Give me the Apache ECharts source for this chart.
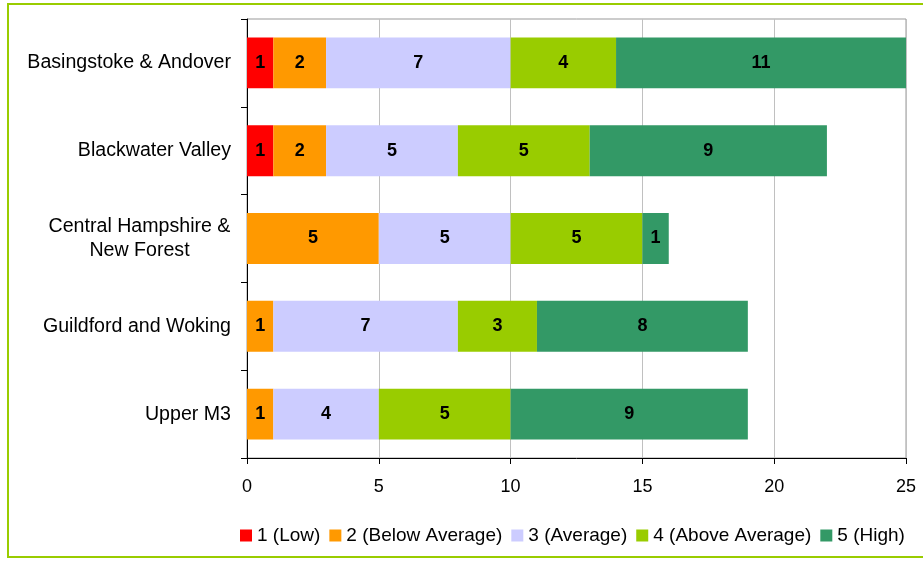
<!DOCTYPE html>
<html>
<head>
<meta charset="utf-8">
<script src="https://cdn.jsdelivr.net/npm/echarts@6/dist/echarts.min.js"></script>
<style>
  html, body { margin: 0; padding: 0; background: #fff; overflow: hidden; }
  #frame {
    position: absolute; left: 7px; top: 3px; width: 930px; height: 555px;
    border: 2px solid #99CC00; box-sizing: border-box;
  }
  #chart { position: absolute; left: 0; top: 0; width: 923px; height: 561px; }
</style>
</head>
<body>
<div id="frame"></div>
<div id="chart"></div>
<script>
const categories = [
  'Basingstoke & Andover',
  'Blackwater Valley',
  'Central Hampshire &\nNew Forest',
  'Guildford and Woking',
  'Upper M3'
];
const seriesNames = ['1 (Low)', '2 (Below Average)', '3 (Average)', '4 (Above Average)', '5 (High)'];
const seriesColors = ['#FF0000', '#FF9900', '#CCCCFF', '#99CC00', '#339966'];
const low = [1, 1, null, null, null];
const belowAverage = [2, 2, 5, 1, 1];
const average = [7, 5, 5, 7, 4];
const aboveAverage = [4, 5, 5, 3, 5];
const high = [11, 9, 1, 8, 9];
const xTicks = [0, 5, 10, 15, 20, 25];

const seriesData = [low, belowAverage, average, aboveAverage, high];
const FONT = '"Liberation Sans", Arial, sans-serif';

const chart = echarts.init(document.getElementById('chart'), null, { renderer: 'canvas' });

const series = seriesData.map((data, i) => ({
  name: seriesNames[i],
  type: 'bar',
  stack: 'total',
  data,
  barWidth: '58%',
  itemStyle: { color: seriesColors[i] },
  label: {
    show: true,
    position: 'inside',
    color: '#000',
    fontWeight: 'bold',
    fontSize: 18,
    fontFamily: FONT
  },
  animation: false
}));

// multi-line category labels are centred line by line, like the original
function catLabel(value) {
  if (value.indexOf('\n') < 0) return value;
  return value.split('\n').map(s => '{c|' + s + '}').join('\n');
}

chart.setOption({
  backgroundColor: 'transparent',
  animation: false,
  grid: {
    left: 247,
    right: 17,
    top: 19,
    bottom: 103,
    show: true,
    borderColor: '#999999',
    borderWidth: 1,
    backgroundColor: 'transparent'
  },
  legend: {
    data: seriesNames,
    top: 521,
    left: 235,
    icon: 'rect',
    itemWidth: 12,
    itemHeight: 12,
    itemGap: 9,
    textStyle: { color: '#000', fontSize: 19, fontFamily: FONT }
  },
  xAxis: {
    type: 'value',
    min: xTicks[0],
    max: xTicks[xTicks.length - 1],
    interval: 5,
    axisLine: { show: true, lineStyle: { color: '#000', width: 1 } },
    axisTick: { show: true, length: 6, lineStyle: { color: '#000' } },
    axisLabel: { color: '#000', fontSize: 18, fontFamily: FONT, margin: 20 },
    splitLine: { show: true, lineStyle: { color: '#C0C0C0', width: 1 } }
  },
  yAxis: {
    type: 'category',
    data: categories,
    inverse: true,
    axisLine: { show: true, lineStyle: { color: '#000', width: 1 } },
    axisTick: { show: true, length: 6, lineStyle: { color: '#000' } },
    axisLabel: {
      color: '#000', fontSize: 19.6, fontFamily: FONT, margin: 16,
      align: 'right', lineHeight: 24,
      formatter: catLabel,
      rich: {
        c: { width: 183, align: 'center', fontSize: 19.6, fontFamily: FONT, color: '#000', lineHeight: 24 }
      }
    },
    splitLine: { show: false }
  },
  series
});
</script>
</body>
</html>
